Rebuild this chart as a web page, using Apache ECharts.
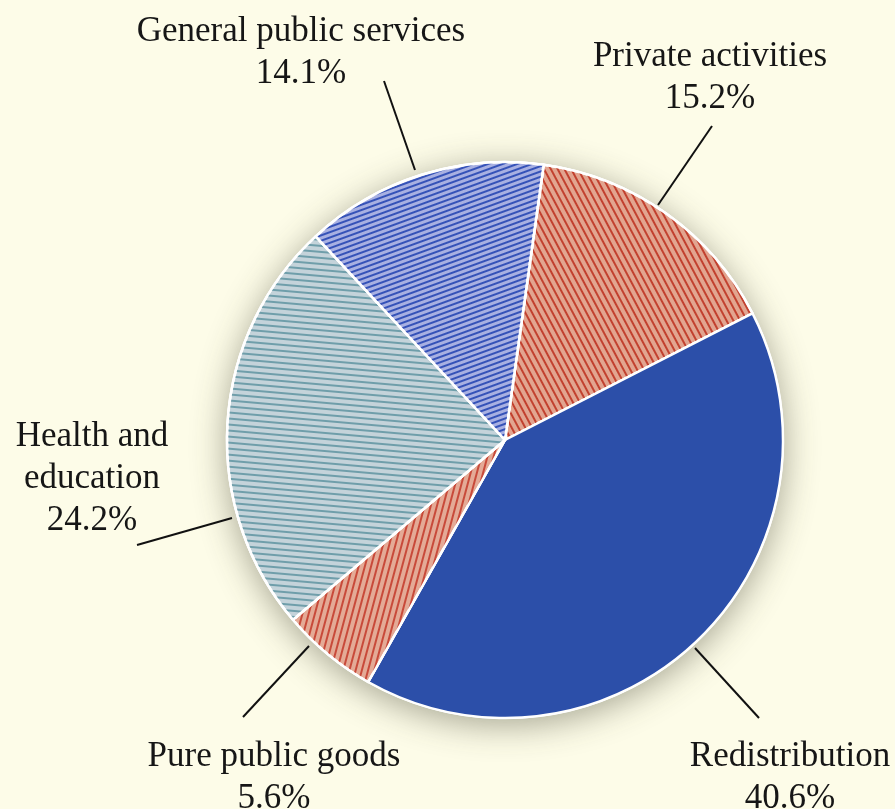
<!DOCTYPE html>
<html>
<head>
<meta charset="utf-8">
<script src="https://cdn.jsdelivr.net/npm/echarts@6/dist/echarts.min.js"></script>
<style>
  html, body { margin: 0; padding: 0; background: #fdfce8; }
  #chart { width: 895px; height: 809px; }
</style>
</head>
<body>
<div id="chart"></div>
<script>
// ---- data ----
const categories = ['Private activities', 'Redistribution', 'Pure public goods', 'Health and\neducation', 'General public services'];
const shares = [15.2, 40.6, 5.6, 24.2, 14.1];

// ---- styles ----
const fillColors = ['#e2a590', '#2c4fa9', '#e4aa96', '#c4d3da', '#a8b0e2'];
const stripeColors = ['#c2412f', null, '#c84a3a', '#6f9eaa', '#3552b8'];
const stripeAngles = [62, 0, -75, 5, -20];
const stripeGaps = [3.5, 0, 4, 3.5, 3];

// label anchors (annotation placement): [labelX, labelY, lineStartX, lineStartY, lineEndX, lineEndY]
const labelPlacement = [
  [710, 78, 658, 205, 712, 126],
  [790, 778, 695, 648, 759, 718],
  [274, 778, 309, 646, 243, 717],
  [92, 479, 232, 518, 137, 545],
  [301, 53, 415, 170, 384, 81]
];

const chart = echarts.init(document.getElementById('chart'), null, { renderer: 'canvas' });

const data = categories.map((name, i) => {
  const item = {
    name: name,
    value: shares[i],
    itemStyle: { color: fillColors[i] }
  };
  if (stripeColors[i]) {
    item.itemStyle.decal = {
      symbol: 'rect',
      symbolSize: 1,
      dashArrayX: [1, 0],
      dashArrayY: [2, stripeGaps[i]],
      rotation: stripeAngles[i] * Math.PI / 180,
      color: stripeColors[i]
    };
  }
  return item;
});

chart.setOption({
  backgroundColor: '#fdfce8',
  animation: false,
  series: [
    {
      type: 'pie',
      silent: true,
      center: [505, 440],
      radius: 279,
      z: 1,
      label: { show: false },
      labelLine: { show: false },
      itemStyle: {
        color: '#ffffff',
        shadowBlur: 34,
        shadowColor: 'rgba(60,60,40,0.45)',
        shadowOffsetY: 6
      },
      data: [{ value: 1, name: '' }]
    },
    {
      type: 'pie',
      center: [505, 440],
      radius: 278,
      startAngle: 82,
      clockwise: true,
      z: 2,
      itemStyle: {
        borderColor: '#ffffff',
        borderWidth: 2.5
      },
      label: {
        show: true,
        position: 'outside',
        overflow: 'none',
        formatter: p => p.name + '\n' + p.value.toFixed(1) + '%',
        fontFamily: 'Liberation Serif',
        fontSize: 35,
        lineHeight: 42,
        color: '#161616',
        align: 'center'
      },
      labelLine: {
        show: true,
        lineStyle: { color: '#111111', width: 2 }
      },
      labelLayout: function (params) {
        const p = labelPlacement[params.dataIndex];
        return {
          x: p[0],
          y: p[1],
          align: 'center',
          verticalAlign: 'middle',
          width: 400,
          labelLinePoints: [[p[2], p[3]], [(p[2] + p[4]) / 2, (p[3] + p[5]) / 2], [p[4], p[5]]]
        };
      },
      emphasis: { disabled: true },
      data: data
    }
  ]
});
</script>
</body>
</html>
